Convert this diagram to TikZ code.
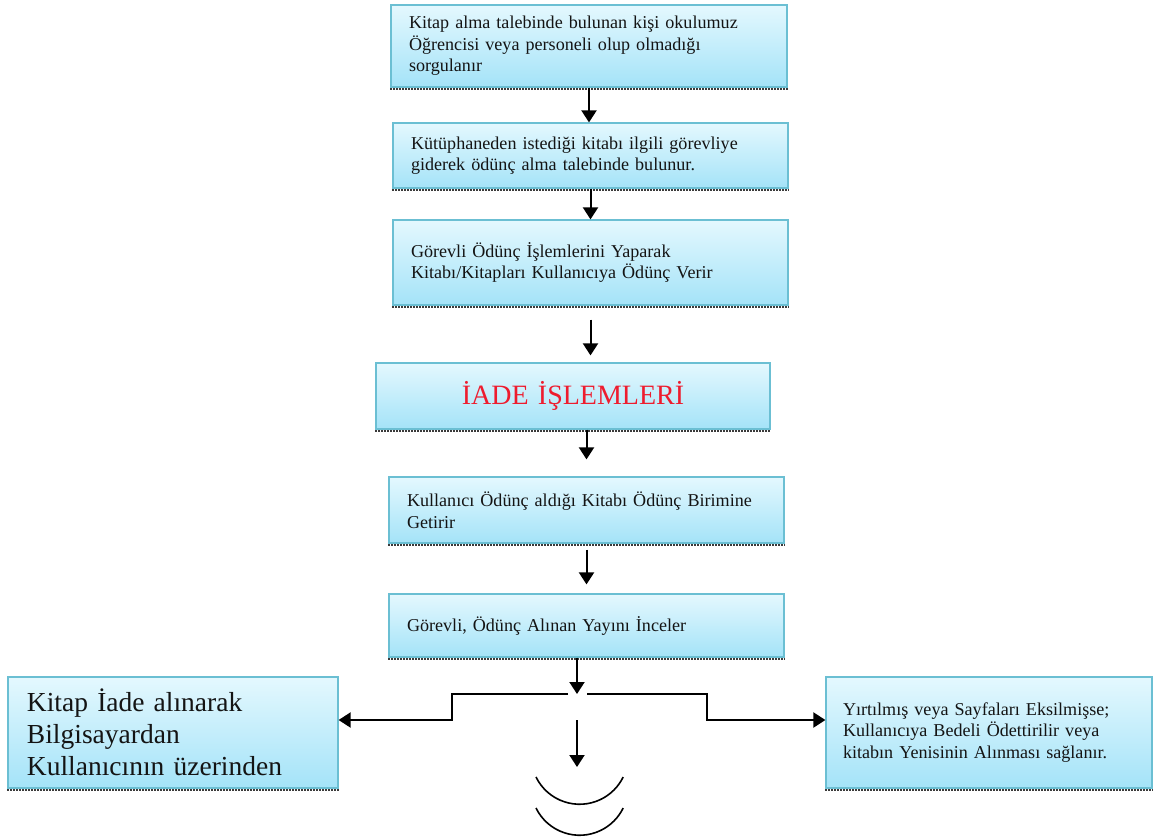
\documentclass[tikz,border=0pt]{standalone}
\usepackage{fontspec}
\setmainfont{Liberation Serif}
\usepackage{tikz}
\usetikzlibrary{arrows.meta}
\definecolor{ink}{HTML}{141414}
\definecolor{frame}{HTML}{6BBFD3}
\definecolor{skytop}{HTML}{E4F8FE}
\definecolor{skybot}{HTML}{A4E3F8}
\definecolor{alarm}{HTML}{EE1C2E}
\definecolor{shade}{HTML}{3A3A3A}
\tikzset{
  box/.style={draw=frame, line width=1.2pt, top color=skytop, bottom color=skybot,
    text=ink, align=left, inner xsep=18pt, inner ysep=0pt,
    font=\fontsize{18.1}{21.5}\selectfont},
  bigbox/.style={box, font=\fontsize{27.5}{32}\selectfont},
  titlebox/.style={box, align=center, text=alarm, font=\fontsize{28}{32}\selectfont},
  arrow/.style={draw=black, line width=2pt, -{Triangle[length=12pt,width=15pt]}},
  line/.style={draw=black, line width=2pt},
  shadowline/.style={draw=shade, line width=2pt, dash pattern=on 2pt off 1pt}
}

\begin{document}
\begin{tikzpicture}[x=1pt,y=-1pt]
  \useasboundingbox (0,0) rectangle (1154,836);

  % lending steps
  \node[box, text width=360pt, minimum height=82pt] (ask) at (589,46)
    {Kitap alma talebinde bulunan kişi okulumuz\\ Öğrencisi veya personeli olup olmadığı\\ sorgulanır};
  \node[box, text width=359pt, minimum height=65pt] (visit) at (590.5,155.5)
    {Kütüphaneden istediği kitabı ilgili görevliye\\ giderek ödünç alma talebinde bulunur.};
  \node[box, text width=359pt, minimum height=85pt] (lend) at (590.5,262.5)
    {Görevli Ödünç İşlemlerini Yaparak\\ Kitabı/Kitapları Kullanıcıya Ödünç Verir};

  % return steps
  \node[titlebox, text width=358pt, minimum height=66pt] (iade) at (573,396) {İADE İŞLEMLERİ};
  \node[box, text width=359pt, minimum height=66pt] (bring) at (586.5,510)
    {Kullanıcı Ödünç aldığı Kitabı Ödünç Birimine\\ Getirir};
  \node[box, text width=359pt, minimum height=63pt] (check) at (586.5,625.5)
    {Görevli, Ödünç Alınan Yayını İnceler};
  \node[bigbox, inner xsep=19pt, text width=292pt, minimum height=111pt] (keep) at (173,732.5)
    {Kitap İade alınarak\\ Bilgisayardan\\ Kullanıcının üzerinden};
  \node[box, inner xsep=17pt, text width=292pt, minimum height=111pt] (repay) at (989,732.5)
    {Yırtılmış veya Sayfaları Eksilmişse;\\ Kullanıcıya Bedeli Ödettirilir veya\\ kitabın Yenisinin Alınması sağlanır.};

  \foreach \n in {ask,visit,lend,iade,bring,check,keep,repay}
    \draw[shadowline] ([yshift=-1.5pt]\n.south west) -- ([yshift=-1.5pt]\n.south east);

  % fork below the inspection
  \coordinate (fork) at (577,694);
  \coordinate (gl) at (568,694);
  \coordinate (gr) at (587,694);
  \coordinate (lt) at (452,694);
  \coordinate (lb) at (452,720);
  \coordinate (rt) at (707,694);
  \coordinate (rb) at (707,720);
  \coordinate (mid) at (577,720);
  \coordinate (bowl) at (577,767);

  \draw[arrow] (ask.south) -- (ask.south |- visit.north);
  \draw[arrow] (visit.south) -- (visit.south |- lend.north);
  \draw[arrow, shorten <=14pt, shorten >=7pt] (lend.south) -- (lend.south |- iade.north);
  \draw[arrow, shorten >=17pt] (iade.south -| bring.north) -- (bring.north);
  \draw[arrow, shorten <=6pt, shorten >=9pt] (bring.south) -- (check.north);
  \draw[arrow] (check.south -| fork) -- (fork);
  \draw[arrow] (gl) -- (lt) -- (lb) -- (lb -| keep.east);
  \draw[arrow] (gr) -- (rt) -- (rb) -- (rb -| repay.west);
  \draw[arrow] (mid) -- (bowl);

  \draw[line, line width=1.6pt] (536,777) arc[start angle=154, end angle=26, radius=48.5];
  \draw[line, line width=1.6pt] (536,808) arc[start angle=154, end angle=26, radius=48.5];
\end{tikzpicture}
\end{document}
